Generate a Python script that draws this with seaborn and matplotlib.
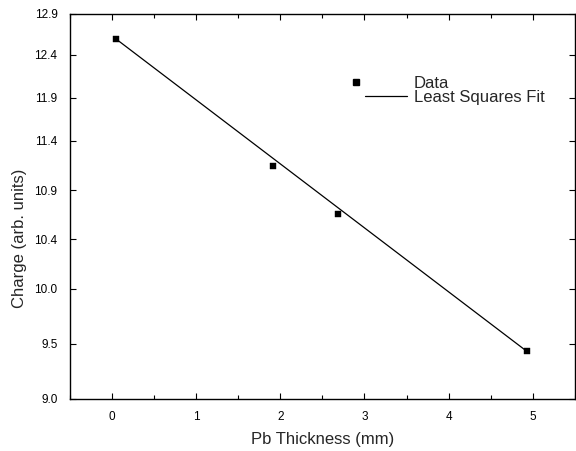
import matplotlib
matplotlib.use("Agg")
import matplotlib.pyplot as plt
import seaborn as sns
import numpy as np
import pandas as pd
from matplotlib.ticker import MultipleLocator, NullLocator, FixedLocator
from matplotlib.lines import Line2D
from matplotlib.legend_handler import HandlerLine2D

sns.set_style("ticks")
plt.rcParams['font.family'] = ['Liberation Sans', 'DejaVu Sans']

# measured charge vs lead thickness
thickness = [0.05, 1.91, 2.68, 4.93]
charge = [12.60, 11.19, 10.70, 9.41]

# least squares fit (straight on log axis)
fit_x = [0.05, 4.93]
fit_y = [12.60, 9.41]

ytick_vals = [9.0, 9.475, 9.975, 10.45, 10.94, 11.46, 11.93, 12.42, 12.9]
ytick_labels = ['9.0', '9.5', '10.0', '10.4', '10.9', '11.4', '11.9', '12.4', '12.9']

data = pd.DataFrame({'thickness': thickness, 'charge': charge})
fit = pd.DataFrame({'x': fit_x, 'y': fit_y})


class LeftMarkerHandler(HandlerLine2D):
    # legend marker sits to the left of the handle box, like the original
    def get_xdata(self, legend, xdescent, ydescent, width, height, fontsize):
        m = -xdescent - 0.55 * fontsize
        return np.array([m - 1, m + 1]), np.array([m])


fig = plt.figure(figsize=(5.76, 4.51), dpi=100)
ax = fig.add_axes([0.1215, 0.1153, 0.8765, 0.8537])

sns.lineplot(data=fit, x='x', y='y', color='black', lw=0.9, ax=ax)
sns.scatterplot(data=data, x='thickness', y='charge', marker='s', s=18,
                color='black', edgecolor='black', linewidth=0.3, ax=ax, zorder=3)

ax.set_yscale('log')
ax.set_xlim(-0.5, 5.5)
ax.set_ylim(9.0, 12.9)
ax.xaxis.set_major_locator(MultipleLocator(1))
ax.xaxis.set_minor_locator(MultipleLocator(0.5))
ax.yaxis.set_major_locator(FixedLocator(ytick_vals))
ax.yaxis.set_minor_locator(NullLocator())
ax.set_yticklabels(ytick_labels)

ax.tick_params(which='both', direction='in', top=True, right=True, labelsize=8.5,
               width=0.8, colors='black')
ax.tick_params(which='major', length=4.5, pad=9)
ax.tick_params(which='minor', length=3)
for sp in ax.spines.values():
    sp.set_linewidth(1.0)
    sp.set_color('black')

ax.set_xlabel('Pb Thickness (mm)', fontsize=12)
ax.set_ylabel('Charge (arb. units)', fontsize=12)
ax.xaxis.set_label_coords(0.5, -0.085)
ax.yaxis.set_label_coords(-0.086, 0.418)

data_handle = Line2D([], [], marker='s', ls='none', color='black', markersize=4)
fit_handle = Line2D([], [], color='black', lw=0.9)
ax.legend([data_handle, fit_handle], ['Data', 'Least Squares Fit'], loc='upper left',
          bbox_to_anchor=(0.562, 0.87), frameon=False, fontsize=12,
          handlelength=2.5, handletextpad=0.4, labelspacing=-0.05,
          borderpad=0.2, handler_map={data_handle: LeftMarkerHandler()})

fig.savefig('out.png', dpi=100)
